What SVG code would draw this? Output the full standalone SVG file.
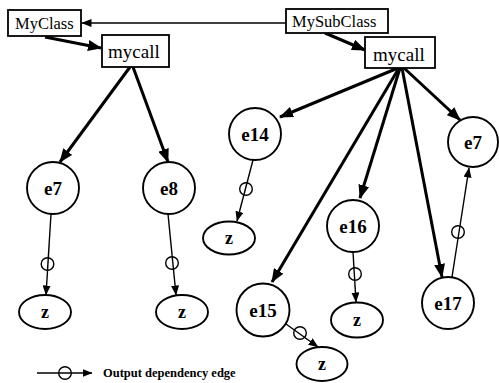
<svg xmlns="http://www.w3.org/2000/svg" width="499" height="383" viewBox="0 0 499 383">
  <style>
    .box { fill: #fff; stroke: #000; stroke-width: 1.8; }
    .node { fill: #fff; stroke: #000; stroke-width: 1.9; }
    .cls { font-family: "Liberation Serif", "Times New Roman", serif; font-size: 16.5px; fill: #000; }
    .call { font-family: "Liberation Serif", "Times New Roman", serif; font-size: 19px; fill: #000; }
    .lbl { font-family: "Liberation Serif", "Times New Roman", serif; font-size: 19px; font-weight: bold; fill: #000; text-anchor: middle; }
    .zl { font-family: "Liberation Serif", "Times New Roman", serif; font-size: 18px; font-weight: bold; fill: #000; text-anchor: middle; }
    .thick { stroke: #000; stroke-width: 3; fill: none; marker-end: url(#bigArrow); }
    .thin { stroke: #000; stroke-width: 1.4; fill: none; marker-end: url(#smallArrow); }
    .ring { fill: none; stroke: #000; stroke-width: 1.4; }
    .legend { font-family: "Liberation Serif", "Times New Roman", serif; font-size: 12.5px; font-weight: bold; fill: #000; }
  </style>
  <defs>
    <marker id="bigArrow" markerUnits="userSpaceOnUse" markerWidth="14" markerHeight="11" refX="13" refY="5.5" orient="auto">
      <path d="M0,0 L14,5.5 L0,11 Z" fill="#000"/>
    </marker>
    <marker id="smallArrow" markerUnits="userSpaceOnUse" markerWidth="10" markerHeight="8" refX="9.5" refY="4" orient="auto">
      <path d="M0,0 L10,4 L0,8 Z" fill="#000"/>
    </marker>
  </defs>

  <rect width="499" height="383" fill="#fff"/>

  <!-- connectors -->
  <g id="connectors">
    <!-- inheritance -->
    <line class="thin" x1="286" y1="23" x2="82" y2="23"/>
    <!-- class to method -->
    <line class="thick" x1="45" y1="37" x2="101" y2="48"/>
    <line class="thick" x1="325" y1="33" x2="365" y2="50"/>
    <!-- left mycall calls -->
    <line class="thick" x1="130" y1="67" x2="60" y2="162"/>
    <line class="thick" x1="133" y1="67" x2="168" y2="162"/>
    <!-- right mycall calls -->
    <line class="thick" x1="398" y1="68" x2="280" y2="117"/>
    <line class="thick" x1="399" y1="68" x2="272" y2="282"/>
    <line class="thick" x1="400" y1="68" x2="360" y2="198"/>
    <line class="thick" x1="402" y1="68" x2="442" y2="277"/>
    <line class="thick" x1="404" y1="68" x2="460" y2="120"/>
    <!-- output dependency edges -->
    <line class="thin" x1="51" y1="214" x2="46" y2="295"/>
    <circle class="ring" cx="47.5" cy="264" r="6.3"/>
    <line class="thin" x1="168" y1="214" x2="176" y2="295"/>
    <circle class="ring" cx="172" cy="263" r="6.3"/>
    <line class="thin" x1="253" y1="160" x2="237" y2="221"/>
    <circle class="ring" cx="246" cy="189" r="6.3"/>
    <line class="thin" x1="353" y1="252" x2="356" y2="302"/>
    <circle class="ring" cx="355" cy="274" r="6.3"/>
    <line class="thin" x1="286" y1="324" x2="318" y2="347"/>
    <circle class="ring" cx="300" cy="333" r="6.3"/>
    <line class="thin" x1="452" y1="277" x2="469" y2="168"/>
    <circle class="ring" cx="458" cy="232" r="6.3"/>
  </g>

  <!-- classes and methods -->
  <g id="MyClass">
    <rect class="box" x="8" y="10" width="73" height="26"/>
    <text class="cls" x="15" y="29">MyClass</text>
  </g>
  <g id="mycall-left">
    <rect class="box" x="102" y="35" width="67" height="32"/>
    <text class="call" x="108" y="58">mycall</text>
  </g>
  <g id="MySubClass">
    <rect class="box" x="286" y="9" width="102" height="24"/>
    <text class="cls" x="292" y="27">MySubClass</text>
  </g>
  <g id="mycall-right">
    <rect class="box" x="365" y="37" width="70" height="31"/>
    <text class="call" x="373" y="61">mycall</text>
  </g>

  <!-- call sites -->
  <g id="e7-left">
    <circle class="node" cx="53" cy="188" r="26"/>
    <text class="lbl" x="53" y="194.5">e7</text>
  </g>
  <g id="e8">
    <circle class="node" cx="169" cy="188" r="26"/>
    <text class="lbl" x="169" y="194.5">e8</text>
  </g>
  <g id="e14">
    <circle class="node" cx="255" cy="134" r="26"/>
    <text class="lbl" x="255" y="140.5">e14</text>
  </g>
  <g id="e15">
    <circle class="node" cx="263" cy="310" r="26.5"/>
    <text class="lbl" x="263" y="316.5">e15</text>
  </g>
  <g id="e16">
    <circle class="node" cx="353" cy="226" r="26"/>
    <text class="lbl" x="353" y="232.5">e16</text>
  </g>
  <g id="e17">
    <circle class="node" cx="448" cy="303" r="26"/>
    <text class="lbl" x="448" y="309.5">e17</text>
  </g>
  <g id="e7-right">
    <circle class="node" cx="473" cy="142" r="25"/>
    <text class="lbl" x="473" y="148.5">e7</text>
  </g>

  <!-- output variables -->
  <g id="z-e7">
    <ellipse class="node" cx="45" cy="312" rx="26" ry="17"/>
    <text class="zl" x="45" y="318">z</text>
  </g>
  <g id="z-e8">
    <ellipse class="node" cx="182" cy="312" rx="26" ry="17"/>
    <text class="zl" x="182" y="318">z</text>
  </g>
  <g id="z-e14">
    <ellipse class="node" cx="229" cy="238" rx="26" ry="16.5"/>
    <text class="zl" x="229" y="244">z</text>
  </g>
  <g id="z-e16">
    <ellipse class="node" cx="357" cy="320" rx="26" ry="17.5"/>
    <text class="zl" x="357" y="326">z</text>
  </g>
  <g id="z-e15">
    <ellipse class="node" cx="322" cy="364" rx="25.5" ry="17"/>
    <text class="zl" x="322" y="370">z</text>
  </g>

  <!-- legend -->
  <g id="legend">
    <line class="thin" x1="37" y1="373" x2="92" y2="373"/>
    <circle class="ring" cx="65" cy="373" r="6.3"/>
    <text class="legend" x="103" y="377">Output dependency edge</text>
  </g>
</svg>
